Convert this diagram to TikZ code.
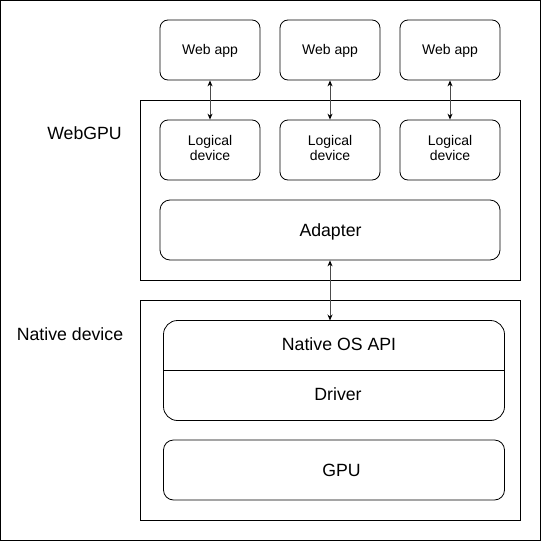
\documentclass[tikz,border=0pt]{standalone}
\usepackage{fontspec}
\setmainfont{Liberation Sans}
\usetikzlibrary{arrows.meta}
\begin{document}
\begin{tikzpicture}[x=1pt,y=-1pt,
  box/.style={draw=black,line width=0.8pt,rounded corners=8pt,inner sep=0pt},
  plainbox/.style={draw=black,line width=0.8pt},
  small/.style={font=\fontsize{14}{16}\selectfont,anchor=base,inner sep=0pt},
  big/.style={font=\fontsize{17.7}{20}\selectfont,anchor=base,inner sep=0pt},
  conn/.style={draw=black!70,line width=0.9pt,{Stealth[length=6pt,width=5pt,black]}-{Stealth[length=6pt,width=5pt,black]}}]
\useasboundingbox (0,0) rectangle (541,541);
\draw[line width=1pt] (0.5,0.5) rectangle (540.5,540.5);
% containers
\draw[plainbox] (140.5,100.5) rectangle (520.5,280.5);
\draw[plainbox] (140.5,300.5) rectangle (520.5,520.5);
\node[big] (webgpu) at (84.5,139.3) {WebGPU};
\node[big] (native) at (70,340) {Native device};
% web apps and logical devices
\foreach \i/\x in {1/210,2/330,3/450}{
  \node[box,minimum width=100pt,minimum height=60pt] (wa\i) at (\x,50) {};
  \node[small] (wat\i) at (\x,54) {Web app};
  \node[box,minimum width=100pt,minimum height=60pt] (ld\i) at (\x,150) {};
  \node[small] (ldt\i) at (\x,145) {Logical};
  \node[small] (ldu\i) at (\x,160.7) {device};
  \draw[conn] (wa\i.south) -- (ld\i.north);
}
\node[box,minimum width=340pt,minimum height=60pt,rounded corners=10pt] (adapter) at (330,230) {};
\node[big] (adaptert) at (330.5,236) {Adapter};
% native os api / driver
\draw[box,rounded corners=14pt] (163.5,320.5) rectangle (504.5,420.5);
\draw[line width=0.8pt] (163.5,370.5) -- (504.5,370.5);
\node[big] (os) at (339,350) {Native OS API};
\node[big] (driver) at (338,400) {Driver};
\coordinate (ostop) at (330,320.5);
\node[box,minimum width=341pt,minimum height=60pt,rounded corners=10pt] (gpu) at (334,470) {};
\node[big] (gput) at (341.5,476) {GPU};
\draw[conn] (adapter.south) -- (ostop);
\end{tikzpicture}
\end{document}
